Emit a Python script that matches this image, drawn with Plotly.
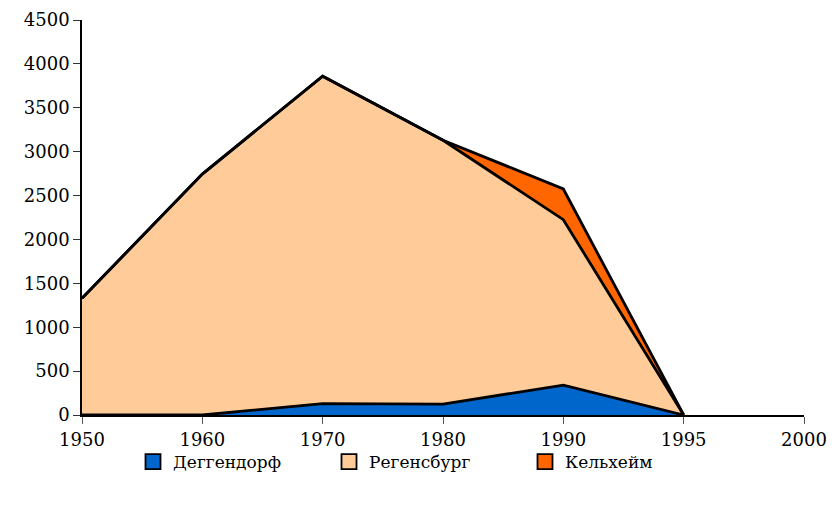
import plotly.graph_objects as go

# Years on a category axis (evenly spaced, as in the source table)
years = ["1950", "1960", "1970", "1980", "1990", "1995", "2000"]
data_years = ["1950", "1960", "1970", "1980", "1990", "1995"]

deggendorf = [0, 0, 130, 125, 340, 0]
regensburg = [1330, 2745, 3730, 3005, 1885, 0]
kelheim = [0, 0, 0, 0, 350, 0]

names = ["Деггендорф", "Регенсбург", "Кельхейм"]
colors = ["#0066CC", "#FFCC99", "#FF6600"]
series = [deggendorf, regensburg, kelheim]

font_family = "DejaVu Serif"

fig = go.Figure()
for name, vals, col in zip(names, series, colors):
    fig.add_trace(go.Scatter(
        x=data_years, y=vals, name=name, mode="lines",
        stackgroup="one", fillcolor=col,
        line=dict(color="black", width=2.8),
        showlegend=False, hoverinfo="x+y+name",
    ))

# Legend entries as square swatches
for name, col in zip(names, colors):
    fig.add_trace(go.Scatter(
        x=[None], y=[None], name=name, mode="markers",
        marker=dict(symbol="square", size=15, color=col,
                    line=dict(color="black", width=1.8)),
    ))

fig.update_layout(
    width=834, height=505,
    margin=dict(l=82, r=30, t=20, b=90, autoexpand=False),
    plot_bgcolor="white", paper_bgcolor="white",
    font=dict(family=font_family, size=18, color="black"),
    showlegend=True,
    legend=dict(
        orientation="h", traceorder="normal",
        x=(133 - 82) / 722, xanchor="left",
        yref="container", y=43 / 505, yanchor="middle",
        entrywidth=151, entrywidthmode="pixels",
        bgcolor="rgba(0,0,0,0)",
        font=dict(family=font_family, size=17), itemwidth=30,
    ),
    xaxis=dict(
        type="category", categoryorder="array", categoryarray=years,
        tickvals=years, range=[0, 6],
        showline=True, linecolor="black", linewidth=2,
        ticks="outside", ticklen=7, tickcolor="#555", tickwidth=1,
        showgrid=False, zeroline=False, tickfont=dict(family=font_family, size=18),
        automargin=False,
    ),
    yaxis=dict(
        range=[0, 4500], dtick=500, tick0=0,
        showline=True, linecolor="black", linewidth=1.5,
        ticks="outside", ticklen=7, tickcolor="#333", tickwidth=1,
        showgrid=False, zeroline=False, tickfont=dict(family=font_family, size=18),
        automargin=False,
    ),
)

fig.write_html("out.html")
